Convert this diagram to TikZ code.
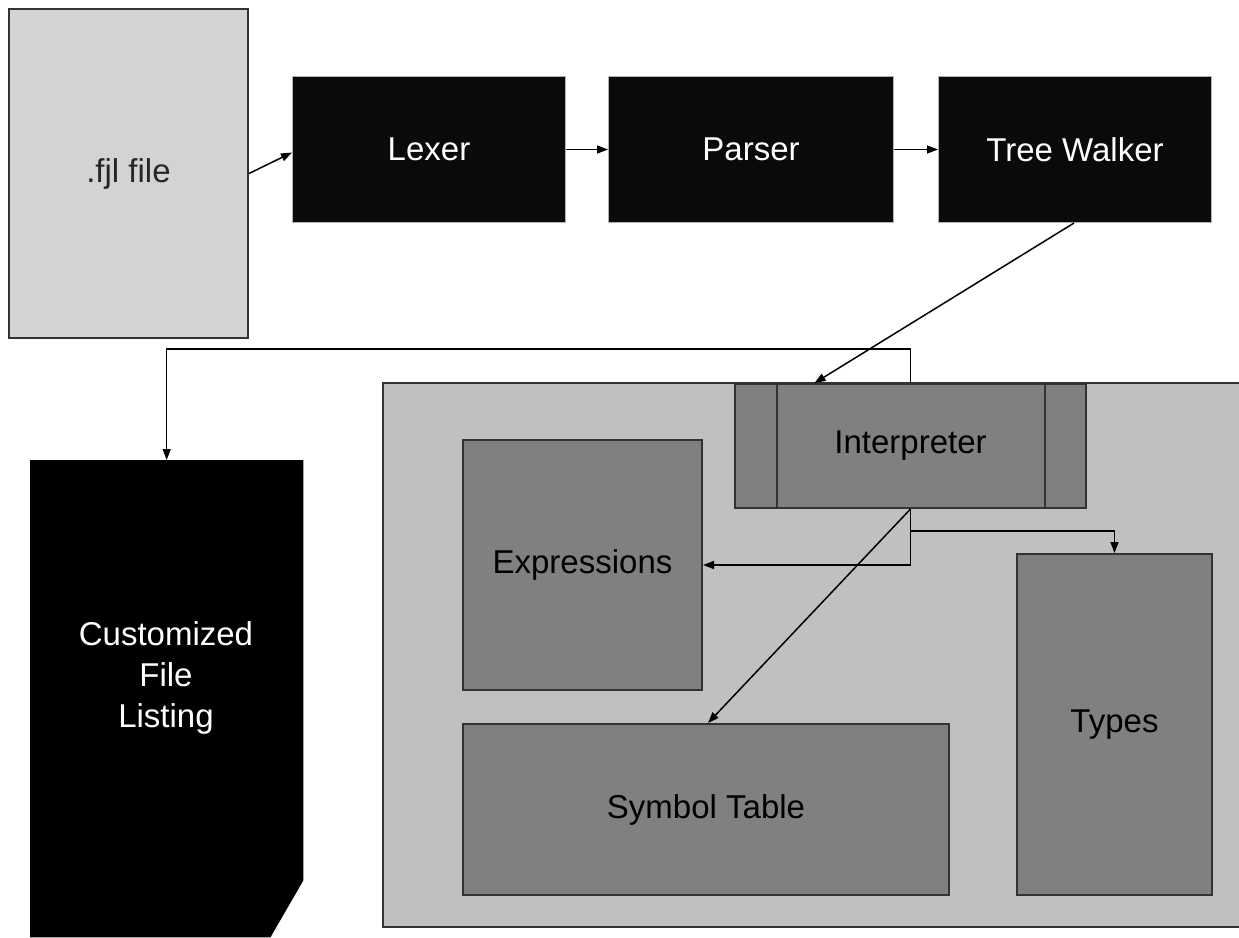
\documentclass[tikz,border=0pt]{standalone}
\usepackage{fontspec}
\setmainfont{Liberation Sans}
\usetikzlibrary{arrows.meta}
\definecolor{lightfile}{HTML}{D3D3D3}
\definecolor{panel}{HTML}{C0C0C0}
\definecolor{midgray}{HTML}{808080}
\definecolor{nearblack}{HTML}{0A0A0A}
\definecolor{edge}{HTML}{333333}
\begin{document}
\begin{tikzpicture}[x=1pt,y=-1pt,
  every node/.style={font=\fontsize{33}{41}\selectfont, inner sep=0pt, align=center},
  blackbox/.style={draw=gray!60, line width=1pt, fill=nearblack, text=white, anchor=north west},
  graybox/.style={draw=edge, line width=2pt, fill=midgray, text=black, anchor=north west},
  arr/.style={draw=black, line width=1.5pt, -{Triangle[length=11pt,width=8pt]}},
  conn/.style={draw=black, line width=1.5pt}]
\useasboundingbox (0,0) rectangle (1239,937);
% panel
\fill[panel, draw=edge, line width=2pt] (383,383) rectangle (1260,927);
% file
\node[draw=edge, line width=2pt, fill=lightfile, text=black!85, anchor=north west,
      minimum width=239pt, minimum height=329pt] (fjl) at (8,8) {.fjl file};
% pipeline
\node[blackbox, minimum width=273pt, minimum height=146pt] (lexer) at (292,76) {Lexer};
\node[blackbox, minimum width=285pt, minimum height=146pt] (parser) at (608,76) {Parser};
\node[blackbox, minimum width=273pt, minimum height=146pt] (tw) at (938,76) {Tree Walker};
% interpreter
\node[graybox, minimum width=351pt, minimum height=124pt] (interp) at (734,383) {Interpreter};
\draw[edge, line width=2pt] ([xshift=43pt]interp.north west) -- ([xshift=43pt]interp.south west);
\draw[edge, line width=2pt] ([xshift=-42pt]interp.north east) -- ([xshift=-42pt]interp.south east);
% inner boxes
\node[graybox, minimum width=239pt, minimum height=250pt] (expr) at (462,439) {Expressions};
\node[graybox, minimum width=195pt, minimum height=341pt] (types) at (1016,553) {Types};
\node[graybox, minimum width=486pt, minimum height=171pt] (sym) at (462,723) {Symbol Table};
% customized file listing
\node[minimum width=273pt, minimum height=477pt, anchor=north west] (cflbox) at (30,460) {};
\fill[black] (cflbox.north west) -- (cflbox.north east) -- ([yshift=57pt]cflbox.south east)
  -- ([xshift=-33pt]cflbox.south east) -- (cflbox.south west) -- cycle;
\node[text=white] (cfl) at (166,678) {Customized\\File\\Listing};
% connectors
\draw[arr] (fjl.east) -- ([yshift=-3pt]lexer.west);
\draw[arr] (lexer.east) -- (parser.west);
\draw[arr] (parser.east) -- (tw.west);
\draw[arr] ([xshift=-1pt]tw.south) -- ([xshift=-96pt]interp.north);
\draw[arr] (interp.north) -- ++(0,-34) -| (cflbox.north);
\draw[arr] (interp.south) |- (expr.east);
\draw[arr] (interp.south) -- ++(0,22) -| (types.north);
\draw[arr] (interp.south) -- ([xshift=2pt]sym.north);
\end{tikzpicture}
\end{document}
